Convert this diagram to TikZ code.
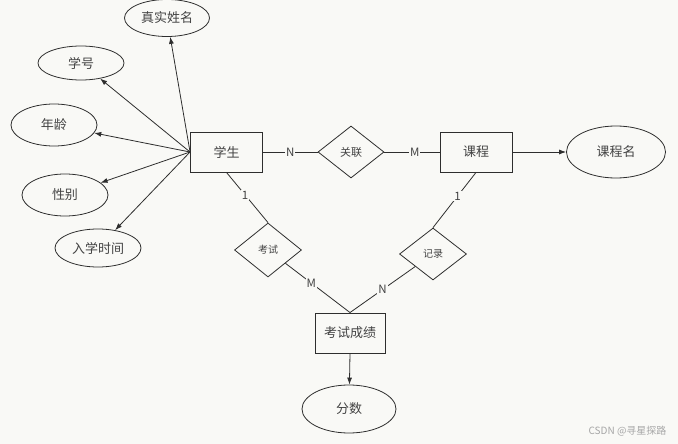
\documentclass[tikz,border=0pt]{standalone}
\usepackage{fontspec}
\setmainfont{Noto Sans CJK SC}
\usetikzlibrary{shapes.geometric,arrows.meta}
\definecolor{bg}{HTML}{F9F9F6}
\definecolor{ln}{HTML}{2E2E2E}
\tikzset{
  every node/.style={text=ln!90},
  entity/.style={draw=ln, line width=0.9pt, rectangle, minimum width=72pt, minimum height=40pt, inner sep=0pt, font=\fontsize{13}{15}\selectfont},
  attr/.style={draw=ln, line width=0.8pt, ellipse, inner sep=0pt, font=\fontsize{13}{15}\selectfont},
  rel/.style={draw=ln, line width=0.8pt, diamond, inner sep=0pt, font=\fontsize{10}{12}\selectfont},
  conn/.style={draw=ln, line width=0.8pt},
  arr/.style={conn, -{Latex[length=7pt,width=5pt]}},
  card/.style={fill=bg, inner sep=1pt, font=\fontsize{11.5}{13}\selectfont}
}
\begin{document}
\begin{tikzpicture}[x=1pt,y=-1pt]
\fill[bg] (0,0) rectangle (678,444);
\useasboundingbox (0,0) rectangle (678,444);
% entities
\node[entity] (xs) at (226.5,152) {学生};
\node[entity] (kc) at (476,152) {课程};
\node[entity, minimum width=70pt] (cj) at (350,333) {考试成绩};
% attributes
\node[attr, minimum width=85pt, minimum height=37pt] (zsxm) at (167,18) {真实姓名};
\node[attr, minimum width=86pt, minimum height=34pt] (xh) at (81,63) {学号};
\node[attr, minimum width=86pt, minimum height=42pt] (nl) at (54,125) {年龄};
\node[attr, minimum width=86pt, minimum height=42pt] (xb) at (65,195) {性别};
\node[attr, minimum width=86pt, minimum height=38pt] (rxsj) at (98,248) {入学时间};
\node[attr, minimum width=99pt, minimum height=52pt] (kcm) at (616,152) {课程名};
\node[attr, minimum width=94pt, minimum height=48pt] (fs) at (349,409) {分数};
% relationships
\node[rel, minimum width=66pt, minimum height=52pt, font=\fontsize{11}{13}\selectfont] (gl) at (351,152) {关联};
\node[rel, minimum width=67pt, minimum height=54pt] (ks) at (268,250) {考试};
\node[rel, minimum width=67pt, minimum height=52pt] (jl) at (433,254) {记录};
% attribute arrows
\draw[arr] (xs.west) -- (zsxm);
\draw[arr] (xs.west) -- (xh);
\draw[arr] (xs.west) -- (nl);
\draw[arr] (xs.west) -- (xb);
\draw[arr] (xs.west) -- (rxsj);
\draw[arr] (kc.east) -- (kcm);
\draw[arr] (cj.south) -- (fs);
% relationship lines
\draw[conn] (xs.east) -- node[card] {N} (gl.west);
\draw[conn] (gl.east) -- node[card, pos=0.55] {M} (kc.west);
\draw[conn] (xs.south) -- node[card, pos=0.45] {1} (ks.north);
\draw[conn] (kc.south) -- node[card, pos=0.43] {1} (jl.north);
\draw[conn] (ks) -- node[card, pos=0.4] {M} (cj.north);
\draw[conn] (jl) -- node[card, pos=0.5] {N} (cj.north);
% watermark
\node[text=gray!70, font=\fontsize{10}{12}\selectfont, anchor=east] (wm) at (670,431) {CSDN @寻星探路};
\end{tikzpicture}
\end{document}
